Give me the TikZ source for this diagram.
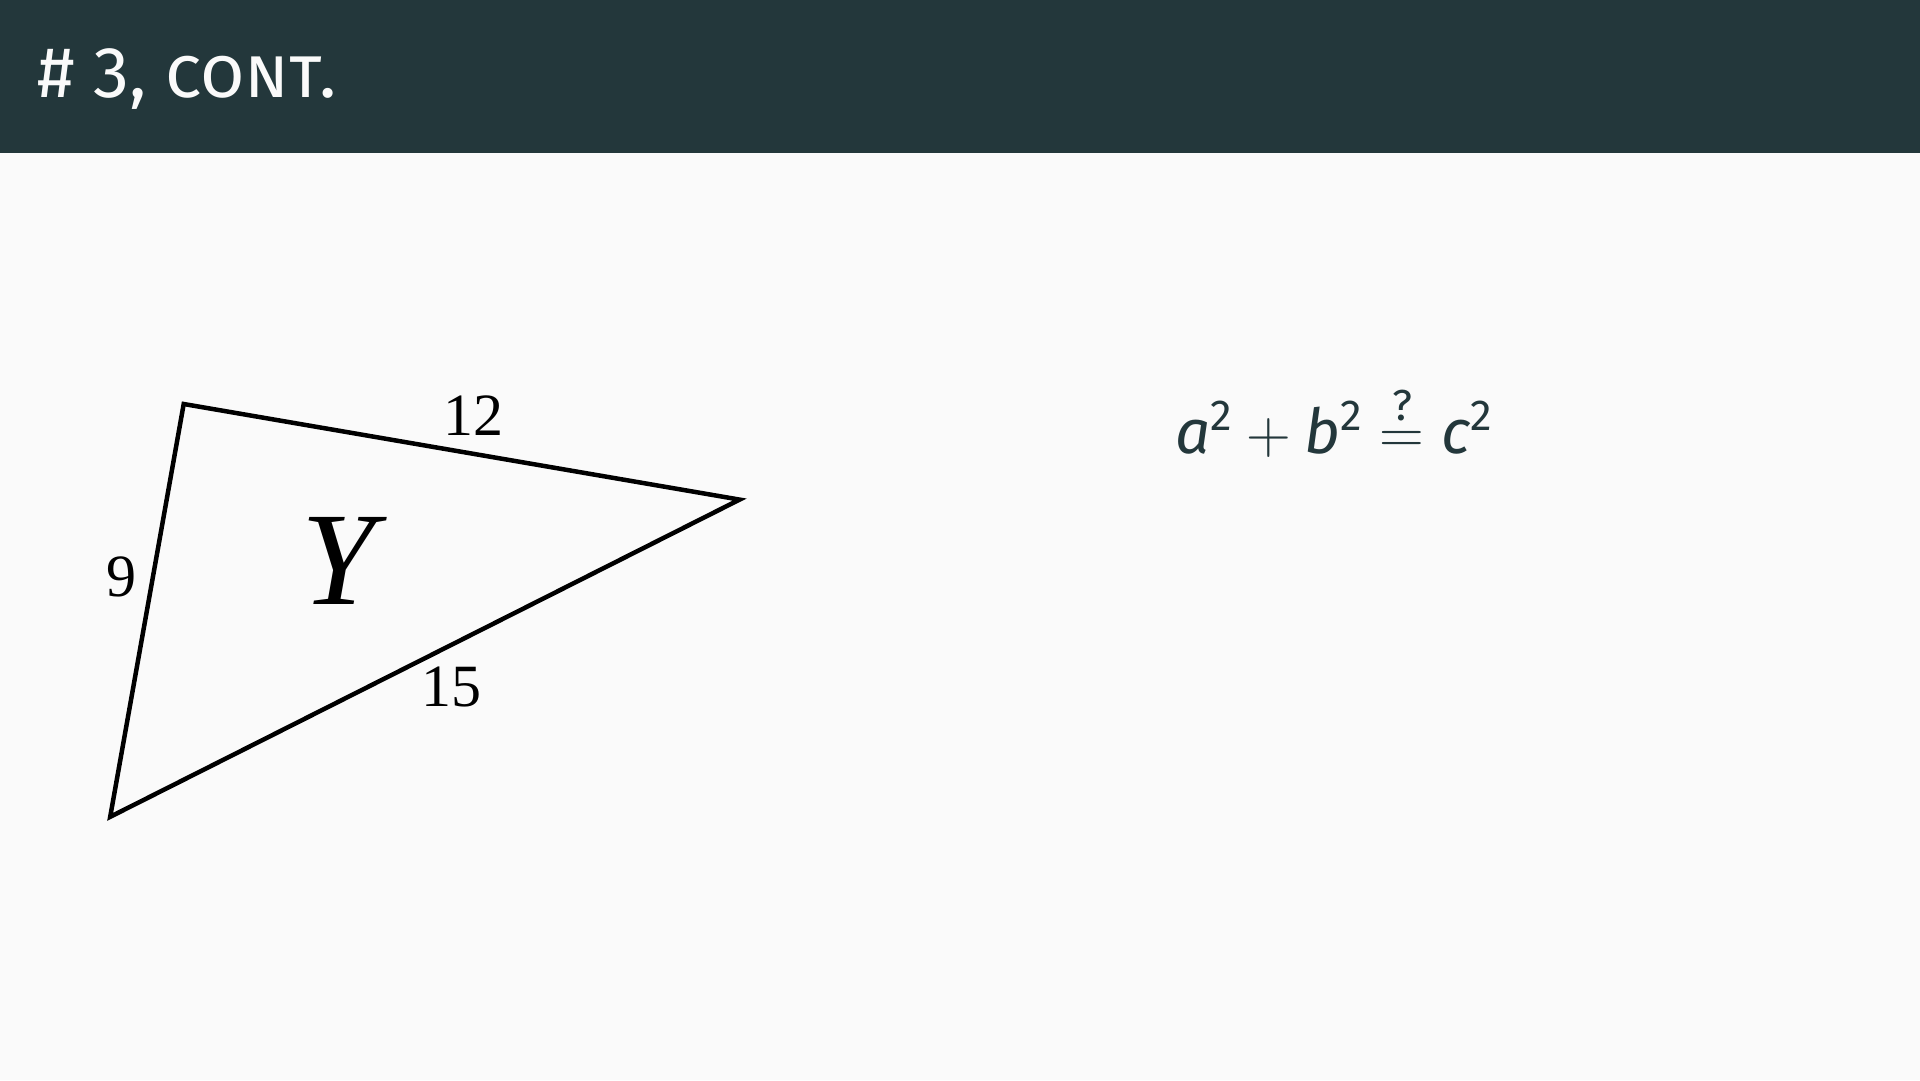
\RequirePackage{fix-cm}
\documentclass[tikz,border=0pt]{standalone}
\usepackage{amsmath}
\usepackage{fontspec}
\setmainfont{Fira Sans}
\newfontfamily\trifont{Liberation Serif}
\usetikzlibrary{positioning}
\definecolor{mDarkTeal}{HTML}{23373B}
\definecolor{mBg}{HTML}{FAFAFA}
\newcommand{\eqvar}[1]{\smash[t]{\text{\itshape #1}}}

\begin{document}
\begin{tikzpicture}[x=1pt,y=-1pt,
  sidelabel/.style={font=\trifont\fontsize{60}{60}\selectfont,inner sep=0pt}]
\useasboundingbox (0,0) rectangle (1920,1080);
% background and title bar
\fill[mBg] (0,0) rectangle (1920,1080);
\fill[mDarkTeal] (0,0) rectangle (1920,153);
\node[anchor=base west,text=mBg,inner sep=0pt,font=\fontsize{72}{80}\selectfont] (title) at (37,97) {\# 3, {\addfontfeatures{Letters=SmallCaps}cont.}};
% the triangle
\coordinate (A) at (183.7,404);
\coordinate (B) at (739.6,499.6);
\coordinate (C) at (110.2,816.8);
\draw[line width=4.5pt,line join=miter] (A) -- (B) -- (C) -- cycle;
% the labels
\node[sidelabel] (l12) at (473,416) {12};
\node[sidelabel] (l9) at (121,577) {9};
\node[sidelabel] (l15) at (451,687) {15};
\node[font=\trifont\itshape\fontsize{133}{133}\selectfont,inner sep=0pt] (name) at (338,561) {Y};
% the equation
\node[anchor=base west,inner sep=0pt,text=mDarkTeal,font=\fontsize{62}{72}\selectfont] (eq) at (1175,453)
  {$\eqvar{a}^{\text{2}} + \eqvar{b}^{\text{2}} \stackrel{\text{\raisebox{5pt}{?}}}{=} \eqvar{c}^{\text{2}}$};
\end{tikzpicture}
\end{document}
